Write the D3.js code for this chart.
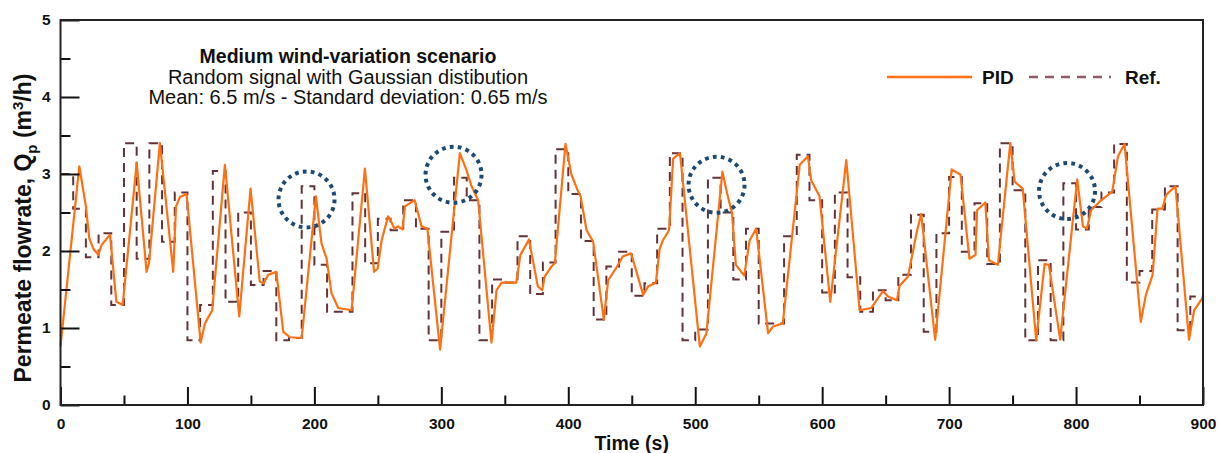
<!DOCTYPE html>
<html>
<head>
<meta charset="utf-8">
<script src="https://cdn.jsdelivr.net/npm/d3@7"></script>
<style>
  body { margin: 0; background: #fff; }
  svg text { font-family: "Liberation Sans", Arial, sans-serif; }
</style>
</head>
<body>
<div id="chart"></div>
<script>
// Reference signal (step changes)
const refTimes = [0, 10, 20, 30, 40, 50, 60, 70, 80, 90, 100, 110, 120, 130, 140, 150, 160, 170, 180, 190,
  200, 210, 220, 230, 240, 250, 260, 270, 280, 290, 300, 310, 320, 330, 340, 350, 360, 370, 380, 390,
  400, 410, 420, 430, 440, 450, 460, 470, 480, 490, 500, 510, 520, 530, 540, 550, 560, 570, 580, 590,
  600, 610, 620, 630, 640, 650, 660, 670, 680, 690, 700, 710, 720, 730, 740, 750, 760, 770, 780, 790,
  800, 810, 820, 830, 840, 850, 860, 870, 880, 890, 900];
const refValues = [3.00, 2.55, 1.92, 2.23, 1.30, 3.40, 1.90, 3.40, 2.12, 2.76, 0.84, 1.30, 3.04, 1.34, 2.50, 1.56, 1.74, 0.84, 0.87, 2.84,
  1.82, 1.21, 1.21, 2.75, 1.84, 2.42, 2.27, 2.66, 2.29, 0.84, 2.25, 2.95, 2.66, 0.84, 1.63, 1.59, 2.19, 1.44, 1.85, 3.32,
  2.74, 2.13, 1.11, 1.80, 1.99, 1.42, 1.58, 2.29, 3.27, 0.84, 0.98, 2.95, 2.50, 1.63, 2.29, 1.06, 1.06, 2.19, 3.25, 2.66,
  1.46, 2.76, 1.66, 1.21, 1.49, 1.36, 1.69, 2.47, 0.95, 2.23, 2.96, 1.99, 2.62, 1.83, 3.40, 2.79, 0.84, 1.88, 0.84, 2.88,
  2.28, 2.57, 2.76, 3.39, 1.59, 1.74, 2.54, 2.84, 0.97, 1.41, 1.88];

// PID response
const pidTimes = [0, 14.8, 20, 22.7, 25.8, 29.8, 32.4, 39, 44, 49, 60, 67.8, 69.7, 78.3, 88.8, 91, 94, 99.3,
  110.4, 113.8, 119.5, 129.5, 140.8, 149.7, 157, 160, 163.6, 170, 175.5, 180.7, 190, 201.2, 205.6, 209.6,
  213.5, 218.8, 229.3, 239.8, 247, 249.8, 253, 258, 260, 263, 265.8, 269.4, 271.3, 279, 284.4, 289, 299,
  314.6, 319.8, 323.8, 329, 339.5, 343.5, 347.4, 359, 362.3, 369, 376, 379.4, 381.5, 386.8, 389.4, 397.8,
  402.5, 407.8, 409.7, 414.4, 419.6, 428, 431.4, 437.4, 443, 449.5, 459, 462.9, 469, 472, 474.6, 479.4,
  482.6, 488, 503.6, 508.8, 521.4, 525.4, 529, 532, 538.6, 542.9, 548, 557.4, 561.3, 569, 582.3, 588.8,
  591.3, 597.9, 606.4, 619, 629.5, 638.7, 647.9, 651.8, 658.9, 661, 667.6, 674.8, 678, 689, 702, 709, 716,
  720.8, 722, 728.5, 731.4, 738.4, 748.2, 751.6, 758, 768.6, 775.2, 778.6, 787.5, 800.9, 805.4, 808.5,
  811.9, 818.5, 828.5, 833, 838.2, 851, 855, 860.3, 864.2, 868, 871, 878.3, 889, 893, 900];
const pidValues = [0.76, 3.10, 2.58, 2.16, 2.03, 1.95, 2.08, 2.21, 1.34, 1.30, 3.14, 1.73, 1.84, 3.40, 1.73, 2.58, 2.70, 2.74,
  0.81, 1.06, 1.23, 3.12, 1.15, 2.81, 1.60, 1.58, 1.69, 1.73, 0.95, 0.88, 0.87, 2.71, 2.10, 1.90,
  1.45, 1.26, 1.23, 3.07, 1.73, 1.77, 2.14, 2.45, 2.40, 2.29, 2.32, 2.28, 2.58, 2.66, 2.32, 2.29, 0.72,
  3.27, 3.05, 2.84, 2.66, 0.81, 1.49, 1.59, 1.59, 1.95, 2.15, 1.54, 1.49, 1.67, 1.80, 1.84, 3.39,
  2.99, 2.77, 2.71, 2.27, 2.12, 1.11, 1.62, 1.77, 1.93, 1.97, 1.43, 1.54, 1.59, 2.03, 2.14, 2.27,
  3.20, 3.27, 0.76, 0.93, 3.03, 2.73, 2.49, 1.82, 1.68, 2.14, 2.29, 0.93, 1.02, 1.06, 3.12, 3.23,
  2.92, 2.71, 1.34, 3.18, 1.23, 1.26, 1.48, 1.41, 1.36, 1.55, 1.67, 2.27, 2.48, 0.85, 3.06, 2.99, 1.90,
  1.95, 2.53, 2.63, 1.88, 1.82, 3.40, 2.90, 2.81, 0.84, 1.83, 1.82, 0.85, 2.93, 2.32, 2.29,
  2.53, 2.64, 2.77, 3.23, 3.39, 1.08, 1.43, 1.69, 2.55, 2.55, 2.73, 2.84, 0.85, 1.23, 1.40];

// Tick values
const xMajorTicks = [0, 100, 200, 300, 400, 500, 600, 700, 800, 900];
const xMinorTicks = [50, 150, 250, 350, 450, 550, 650, 750, 850];
const yMajorTicks = [0, 1, 2, 3, 4, 5];
const yMinorTicks = [0.5, 1.5, 2.5, 3.5, 4.5];

// Highlighted spots (dotted circles), in data units
const circleTimes = [193.8, 309.6, 516.8, 792.9];
const circleValues = [2.67, 2.99, 2.86, 2.78];

const annotationLines = ["Medium wind-variation scenario",
  "Random signal with Gaussian distibution",
  "Mean: 6.5 m/s - Standard deviation: 0.65 m/s"];

const W = 1220, H = 453;
const margin = { top: 20, right: 17, bottom: 48, left: 60.5 },
    width = W - margin.left - margin.right,
    height = H - margin.top - margin.bottom;

const pidColor = "#ff7012", refColor = "#633339", circleColor = "#1d4a72";

const svg = d3.select("#chart").append("svg")
    .attr("width", W)
    .attr("height", H);

const g = svg.append("g")
    .attr("transform", `translate(${margin.left},${margin.top})`);

const x = d3.scaleLinear().domain([0, 900]).range([0, width]);
const y = d3.scaleLinear().domain([0, 5]).range([height, 0]);

// Ref line (dashed step)
const refData = refTimes.map((t, i) => ({ t: t, v: refValues[i] }));
g.append("path")
    .datum(refData)
    .attr("fill", "none")
    .attr("stroke", refColor)
    .attr("stroke-width", 2)
    .attr("stroke-dasharray", "9,6")
    .attr("d", d3.line().x(d => x(d.t)).y(d => y(d.v)).curve(d3.curveStepAfter));

// PID line
const pidData = pidTimes.map((t, i) => ({ t: t, v: pidValues[i] }));
g.append("path")
    .datum(pidData)
    .attr("fill", "none")
    .attr("stroke", pidColor)
    .attr("stroke-width", 2.2)
    .attr("stroke-linejoin", "round")
    .attr("d", d3.line().x(d => x(d.t)).y(d => y(d.v)));

// Dotted circles
g.selectAll(".spot")
    .data(circleTimes)
    .enter()
    .append("circle")
    .attr("class", "spot")
    .attr("cx", d => x(d))
    .attr("cy", (d, i) => y(circleValues[i]))
    .attr("r", 28)
    .attr("fill", "none")
    .attr("stroke", circleColor)
    .attr("stroke-width", 4)
    .attr("stroke-dasharray", "3.8,4.2");

// Axes
g.append("g")
    .attr("transform", `translate(0,${height})`)
    .call(d3.axisBottom(x).tickValues(xMajorTicks).tickSize(-18).tickPadding(13));
g.append("g")
    .attr("transform", `translate(0,${height})`)
    .call(d3.axisBottom(x).tickValues(xMinorTicks).tickSize(-9.5).tickFormat(""));
g.append("g")
    .call(d3.axisLeft(y).tickValues(yMajorTicks).tickSize(-19).tickPadding(10).tickFormat(d3.format("d")));
g.append("g")
    .call(d3.axisLeft(y).tickValues(yMinorTicks).tickSize(-10).tickFormat(""));

g.selectAll(".domain").remove();
g.selectAll(".tick line").attr("stroke", "#111").attr("stroke-width", 2);
g.selectAll(".tick text")
    .attr("fill", "#111")
    .style("font-size", "15.5px")
    .style("font-weight", "bold");

// Frame
g.append("rect")
    .attr("width", width)
    .attr("height", height)
    .attr("fill", "none")
    .attr("stroke", "#222")
    .attr("stroke-width", 2);

// Axis labels
svg.append("text")
    .attr("x", margin.left + width / 2)
    .attr("y", 450)
    .attr("text-anchor", "middle")
    .style("font-size", "19.5px")
    .style("font-weight", "bold")
    .attr("fill", "#111")
    .text("Time (s)");

const yl = svg.append("text")
    .attr("transform", "translate(31,228) rotate(-90)")
    .attr("text-anchor", "middle")
    .style("font-size", "23px")
    .style("font-weight", "bold")
    .attr("fill", "#111");
yl.append("tspan").text("Permeate flowrate, Q");
yl.append("tspan").attr("dy", 6).style("font-size", "15px").text("p");
yl.append("tspan").attr("dy", -6).text(" (m");
yl.append("tspan").attr("dy", -8).style("font-size", "15px").text("3");
yl.append("tspan").attr("dy", 8).text("/h)");

// Annotation text
const ann = svg.append("text")
    .attr("text-anchor", "middle")
    .attr("fill", "#111")
    .style("font-size", "20px");
annotationLines.forEach((line, i) => {
    ann.append("tspan")
        .attr("x", 348)
        .attr("y", 63 + i * 20.5)
        .style("font-weight", i === 0 ? "bold" : "normal")
        .style("font-size", i === 0 ? "19.5px" : "20px")
        .text(line);
});

// Legend
const legend = svg.append("g").attr("transform", "translate(887,77)");
legend.append("line")
    .attr("x1", 0).attr("x2", 85)
    .attr("stroke", pidColor).attr("stroke-width", 2.5);
legend.append("text")
    .attr("x", 95).attr("y", 7)
    .style("font-size", "19px").style("font-weight", "bold")
    .attr("fill", "#111")
    .text("PID");
legend.append("line")
    .attr("x1", 142).attr("x2", 224)
    .attr("stroke", "#8a5e62").attr("stroke-width", 2.5)
    .attr("stroke-dasharray", "9,7");
legend.append("text")
    .attr("x", 238).attr("y", 7)
    .style("font-size", "19px").style("font-weight", "bold")
    .attr("fill", "#111")
    .text("Ref.");
</script>
</body>
</html>
